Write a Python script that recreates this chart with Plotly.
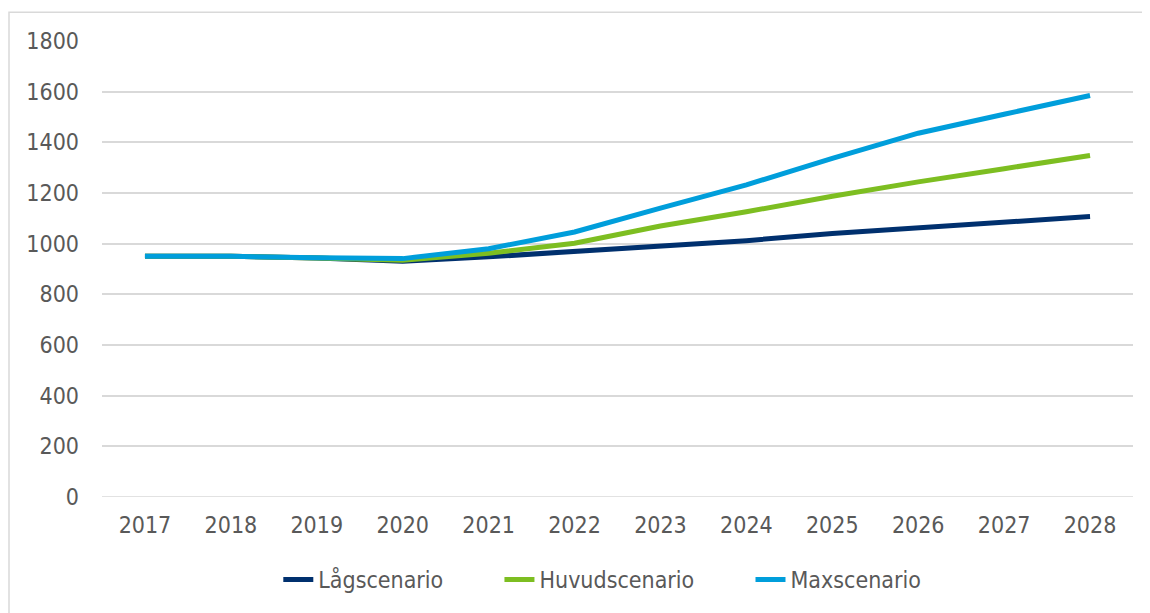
import plotly.graph_objects as go

years = ["2017", "2018", "2019", "2020", "2021", "2022",
         "2023", "2024", "2025", "2026", "2027", "2028"]

lag   = [950, 950, 943, 931, 948, 970, 994, 1012, 1040, 1062, 1087, 1107]
huvud = [950, 950, 943, 935, 962, 1002, 1070, 1126, 1187, 1244, 1296, 1348]
maxs  = [950, 950, 944, 941, 980, 1046, 1140, 1232, 1337, 1436, 1511, 1585]

series = [
    ("Lågscenario",   lag,   "#00306E"),
    ("Huvudscenario", huvud, "#7DBE21"),
    ("Maxscenario",   maxs,  "#009EDB"),
]

# left edge of each legend entry (paper x)
leg_x = [0.171, 0.3855, 0.629]

txt = "#595959"
font = "DejaVu Sans Condensed"

fig = go.Figure()

for i, (name, vals, col) in enumerate(series):
    fig.add_trace(
        go.Scatter(
            x=years,
            y=vals,
            name=name,
            mode="lines",
            line={"color": col, "width": 5},
            legend="legend" if i == 0 else f"legend{i + 1}",
        )
    )

def leg(x):
    return {
        "orientation": "h",
        "x": x,
        "xanchor": "left",
        "y": -0.181,
        "yanchor": "middle",
        "font": {"family": font, "size": 23, "color": txt},
        "itemwidth": 30,
        "bgcolor": "rgba(0,0,0,0)",
    }

# page body adds an 8px offset, so the figure is a bit smaller
fig.update_layout(
    width=1142,
    height=605,
    margin={"l": 94, "r": 17, "t": 33, "b": 113},
    paper_bgcolor="white",
    plot_bgcolor="white",
    font={"family": font, "size": 23, "color": txt},
    showlegend=True,
    legend=leg(leg_x[0]),
    legend2=leg(leg_x[1]),
    legend3=leg(leg_x[2]),
    xaxis={
        "type": "category",
        "range": [-0.5, 11.5],
        "showgrid": False,
        "showline": False,
        "zeroline": False,
        "ticks": "",
        "ticklabelstandoff": 12,
    },
    yaxis={
        "range": [0, 1800],
        "tickvals": list(range(0, 1801, 200)),
        "showgrid": True,
        "gridcolor": "#D9D9D9",
        "gridwidth": 1.5,
        "zeroline": False,
        "showline": False,
        "ticks": "",
        "ticklabelstandoff": 22,
    },
    shapes=[
        {
            "type": "rect",
            "xref": "paper",
            "yref": "paper",
            "x0": -0.0902,
            "x1": 1.2,
            "y0": -0.6,
            "y1": 1.063,
            "line": {"color": "#D9D9D9", "width": 1.5},
            "fillcolor": "rgba(0,0,0,0)",
            "layer": "below",
        },
        {
            "type": "line",
            "xref": "paper",
            "yref": "y",
            "x0": 0,
            "x1": 1,
            "y0": 0,
            "y1": 0,
            "line": {"color": "#D9D9D9", "width": 1.5},
            "layer": "below",
        },
    ],
)

fig.write_html("out.html")
